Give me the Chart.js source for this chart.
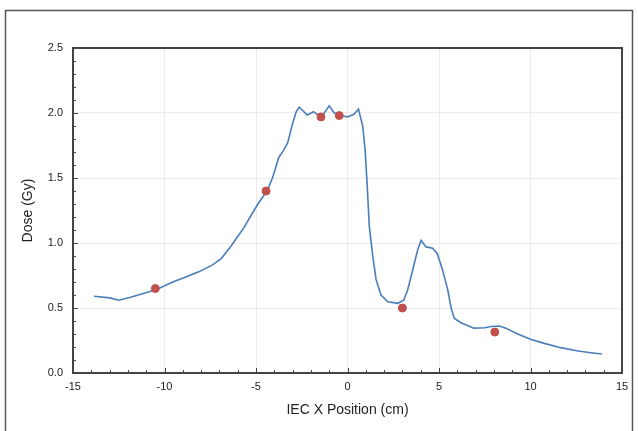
<!DOCTYPE html>
<html>
<head>
<meta charset="utf-8">
<script src="https://cdn.jsdelivr.net/npm/chart.js@4.4.1/dist/chart.umd.min.js"></script>
<style>
html,body{margin:0;padding:0;background:#fff;}
#wrap{width:638px;height:431px;position:relative;}
</style>
</head>
<body>
<div id="wrap"><canvas id="c" width="638" height="431"></canvas></div>
<script>
// Calculated dose profile
const profileX = [-13.85,-13.0,-12.5,-11.9,-11.2,-10.4,-9.55,-8.8,-8.1,-7.4,-6.9,-6.4,-5.65,-4.9,-4.4,-4.1,-3.75,-3.5,-3.27,-3.0,-2.8,-2.63,-2.2,-1.85,-1.5,-1.27,-1.0,-0.72,-0.4,0.0,0.35,0.6,0.83,0.96,1.07,1.19,1.38,1.56,1.83,2.2,2.75,3.07,3.29,3.56,3.84,4.02,4.3,4.65,4.9,5.2,5.48,5.66,5.84,6.2,6.9,7.5,7.85,8.3,8.65,9.3,10.0,10.75,11.65,12.6,13.3,13.9];
const profileDose = [0.59,0.578,0.56,0.58,0.61,0.645,0.70,0.74,0.78,0.83,0.88,0.97,1.12,1.30,1.40,1.50,1.66,1.71,1.77,1.92,2.01,2.045,1.985,2.01,1.97,2.0,2.055,2.0,1.98,1.97,1.99,2.03,1.90,1.72,1.46,1.13,0.90,0.72,0.60,0.548,0.536,0.56,0.64,0.79,0.95,1.02,0.97,0.96,0.92,0.79,0.64,0.50,0.42,0.387,0.345,0.348,0.358,0.362,0.345,0.30,0.26,0.228,0.195,0.169,0.156,0.146];
// Measured points
const measuredX = [-10.5,-4.45,-1.45,-0.45,3.0,8.05];
const measuredDose = [0.65,1.40,1.97,1.98,0.50,0.315];
// Tick values
const xTicks = [-15,-10,-5,0,5,10,15];
const yTicks = [0.0,0.5,1.0,1.5,2.0,2.5];

const FONT = "'Liberation Sans', Arial, sans-serif";

const minorTicks = {
  id: 'minorTicks',
  afterDraw(chart) {
    const ctx = chart.ctx;
    const {left, right, top, bottom} = chart.chartArea;
    const xs = chart.scales.x, ys = chart.scales.y;
    ctx.save();
    ctx.strokeStyle = '#444';
    ctx.lineWidth = 1;
    ctx.beginPath();
    for (let v = -15; v <= 15; v++) {
      const px = Math.round(xs.getPixelForValue(v)) + 0.5;
      const len = (v % 5 === 0) ? 5 : 3;
      ctx.moveTo(px, bottom); ctx.lineTo(px, bottom - len);
    }
    for (let i = 0; i <= 25; i++) {
      const v = i / 10;
      const py = Math.round(ys.getPixelForValue(v)) + 0.5;
      const len = (i % 5 === 0) ? 5 : 3;
      ctx.moveTo(left, py); ctx.lineTo(left + len, py);
    }
    ctx.stroke();
    // outer frame
    ctx.strokeStyle = '#555';
    ctx.lineWidth = 1.5;
    ctx.beginPath();
    ctx.moveTo(5.5, 431); ctx.lineTo(5.5, 10.5); ctx.lineTo(632.5, 10.5); ctx.lineTo(632.5, 431);
    ctx.stroke();
    ctx.restore();
  }
};

new Chart(document.getElementById('c'), {
  type: 'scatter',
  data: {
    datasets: [
      {
        label: 'Measured',
        data: measuredX.map((x, i) => ({x, y: measuredDose[i]})),
        backgroundColor: '#c0504d',
        borderColor: '#c0504d',
        pointRadius: 4,
        showLine: false,
        order: 0
      },
      {
        label: 'Calculated',
        data: profileX.map((x, i) => ({x, y: profileDose[i]})),
        showLine: true,
        borderColor: '#4a7ebb',
        borderWidth: 1.6,
        pointRadius: 0,
        tension: 0,
        fill: false,
        order: 1
      }
    ]
  },
  options: {
    responsive: false,
    animation: false,
    devicePixelRatio: 1,
    layout: {padding: {top: 48, right: 16, left: 0, bottom: 0}},
    plugins: {legend: {display: false}, tooltip: {enabled: false}},
    scales: {
      x: {
        type: 'linear', min: -15, max: 15,
        afterBuildTicks: (s) => { s.ticks = xTicks.map(v => ({value: v})); },
        afterFit: (s) => { s.height = 58; },
        grid: {color: '#ececec', lineWidth: 1, drawTicks: false},
        border: {display: true, color: '#444', width: 2},
        ticks: {color: '#222', font: {family: FONT, size: 11}, padding: 7, maxRotation: 0},
        title: {display: true, text: 'IEC X Position (cm)', color: '#222', font: {family: FONT, size: 14}, padding: 12}
      },
      y: {
        type: 'linear', min: 0, max: 2.5,
        afterBuildTicks: (s) => { s.ticks = yTicks.map(v => ({value: v})); },
        afterFit: (s) => { s.width = 73; },
        grid: {color: '#ececec', lineWidth: 1, drawTicks: false},
        border: {display: true, color: '#444', width: 2},
        ticks: {color: '#222', font: {family: FONT, size: 11}, padding: 10, callback: (v) => Number(v).toFixed(1)},
        title: {display: true, text: 'Dose (Gy)', color: '#222', font: {family: FONT, size: 14}, padding: 20}
      }
    }
  },
  plugins: [minorTicks, {
    id: 'frameBorder',
    afterDraw(chart) {
      const {left, right, top, bottom} = chart.chartArea;
      const ctx = chart.ctx;
      ctx.save();
      ctx.strokeStyle = '#444';
      ctx.lineWidth = 2;
      ctx.strokeRect(left, top, right - left, bottom - top);
      ctx.restore();
    }
  }]
});
</script>
</body>
</html>
